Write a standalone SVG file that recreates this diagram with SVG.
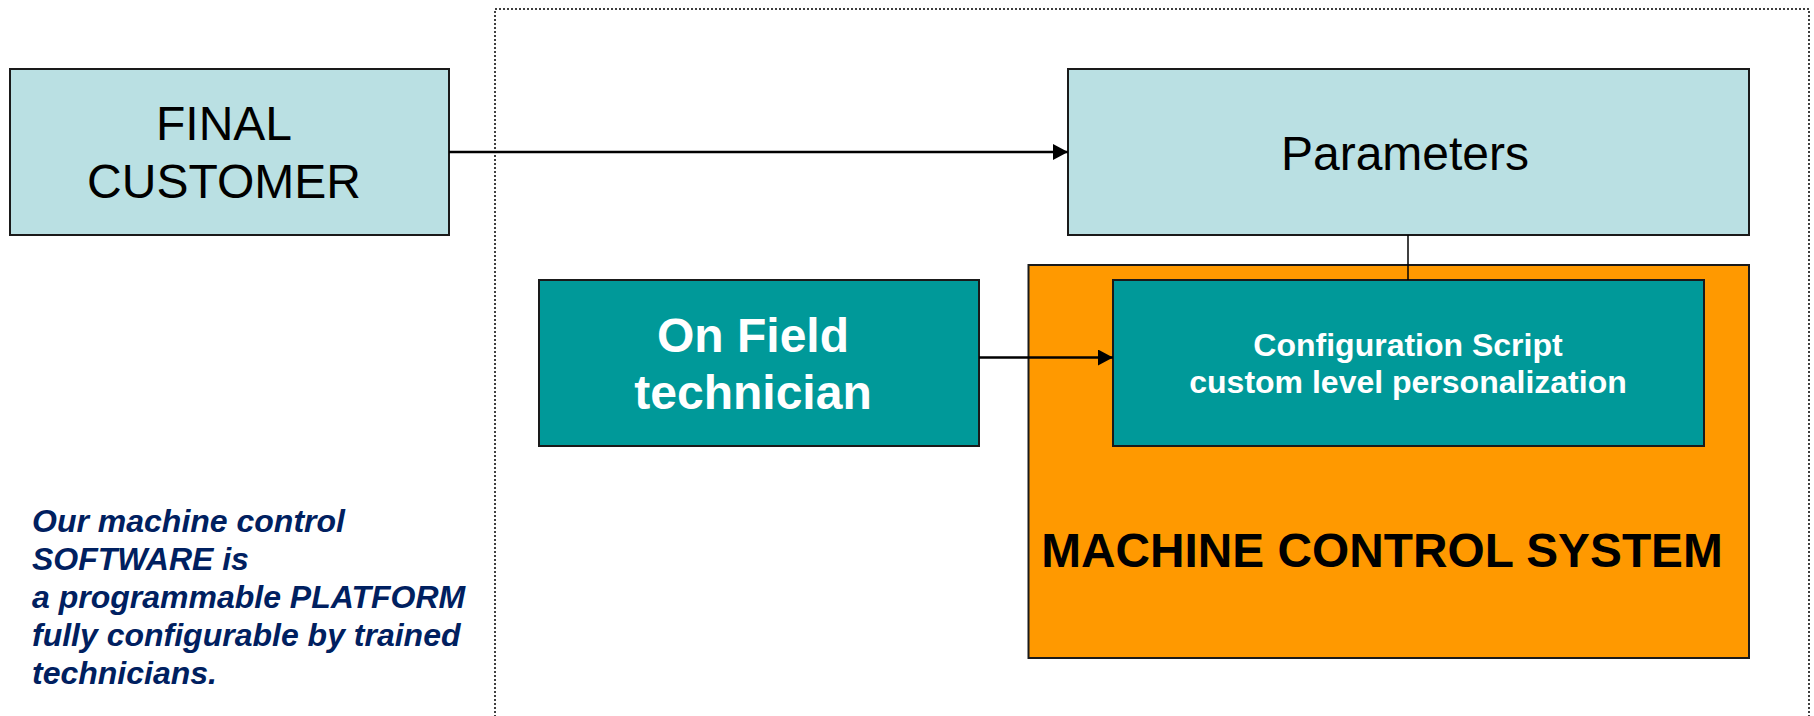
<svg xmlns="http://www.w3.org/2000/svg" width="1814" height="716" viewBox="0 0 1814 716">
  <style>
    .light { fill: #BAE0E3; stroke: #1a1a1a; stroke-width: 2; }
    .teal { fill: #009999; stroke: #1a1a1a; stroke-width: 2; }
    .orange { fill: #FF9900; stroke: #1a1a1a; stroke-width: 2; }
    .reg { font-family: "Liberation Sans", Arial, sans-serif; font-size: 48px; fill: #000; text-anchor: middle; }
    .boldw { font-family: "Liberation Sans", Arial, sans-serif; font-weight: bold; fill: #fff; text-anchor: middle; }
    .mcs { font-family: "Liberation Sans", Arial, sans-serif; font-weight: bold; font-size: 47.8px; fill: #000; text-anchor: middle; }
    .note { font-family: "Liberation Sans", Arial, sans-serif; font-weight: bold; font-style: italic; font-size: 32px; fill: #002060; }
    .conn { stroke: #000; stroke-width: 2.5; fill: none; }
  </style>
  <defs>
    <marker id="arrow" viewBox="0 0 15 16" refX="15" refY="8" markerWidth="15" markerHeight="16" markerUnits="userSpaceOnUse" orient="auto">
      <path d="M0,0 L15,8 L0,16 Z" fill="#000"/>
    </marker>
  </defs>

  <rect id="frame" x="495" y="9" width="1314" height="720" fill="none" stroke="#000" stroke-width="1.5" stroke-dasharray="2,2"/>

  <g id="final-customer">
    <rect class="light" x="10" y="69" width="439" height="166"/>
    <text class="reg" x="224" y="140">FINAL</text>
    <text class="reg" x="224" y="198">CUSTOMER</text>
  </g>

  <g id="parameters">
    <rect class="light" x="1068" y="69" width="681" height="166"/>
    <text class="reg" x="1405" y="170">Parameters</text>
  </g>

  <g id="machine-control-system">
    <rect class="orange" x="1028.5" y="265" width="720.5" height="393"/>
    <text class="mcs" x="1382" y="567">MACHINE CONTROL SYSTEM</text>
  </g>

  <g id="configuration-script">
    <rect class="teal" x="1113" y="280" width="591" height="166"/>
    <text class="boldw" x="1408" y="356" font-size="32">Configuration Script</text>
    <text class="boldw" x="1408" y="393" font-size="32">custom level personalization</text>
  </g>

  <g id="on-field-technician">
    <rect class="teal" x="539" y="280" width="440" height="166"/>
    <text class="boldw" x="753" y="352" font-size="48">On Field</text>
    <text class="boldw" x="753" y="409" font-size="48">technician</text>
  </g>

  <g id="note">
    <text class="note" x="32" y="532">Our machine control</text>
    <text class="note" x="32" y="570">SOFTWARE is</text>
    <text class="note" x="32" y="608">a programmable PLATFORM</text>
    <text class="note" x="32" y="646">fully configurable by trained</text>
    <text class="note" x="32" y="684">technicians.</text>
  </g>

  <g id="connectors">
    <line class="conn" x1="449" y1="152" x2="1068" y2="152" marker-end="url(#arrow)"/>
    <line class="conn" x1="979" y1="357.5" x2="1113" y2="357.5" marker-end="url(#arrow)"/>
    <line x1="1408" y1="235" x2="1408" y2="280" stroke="#000" stroke-width="1.5"/>
  </g>
</svg>
